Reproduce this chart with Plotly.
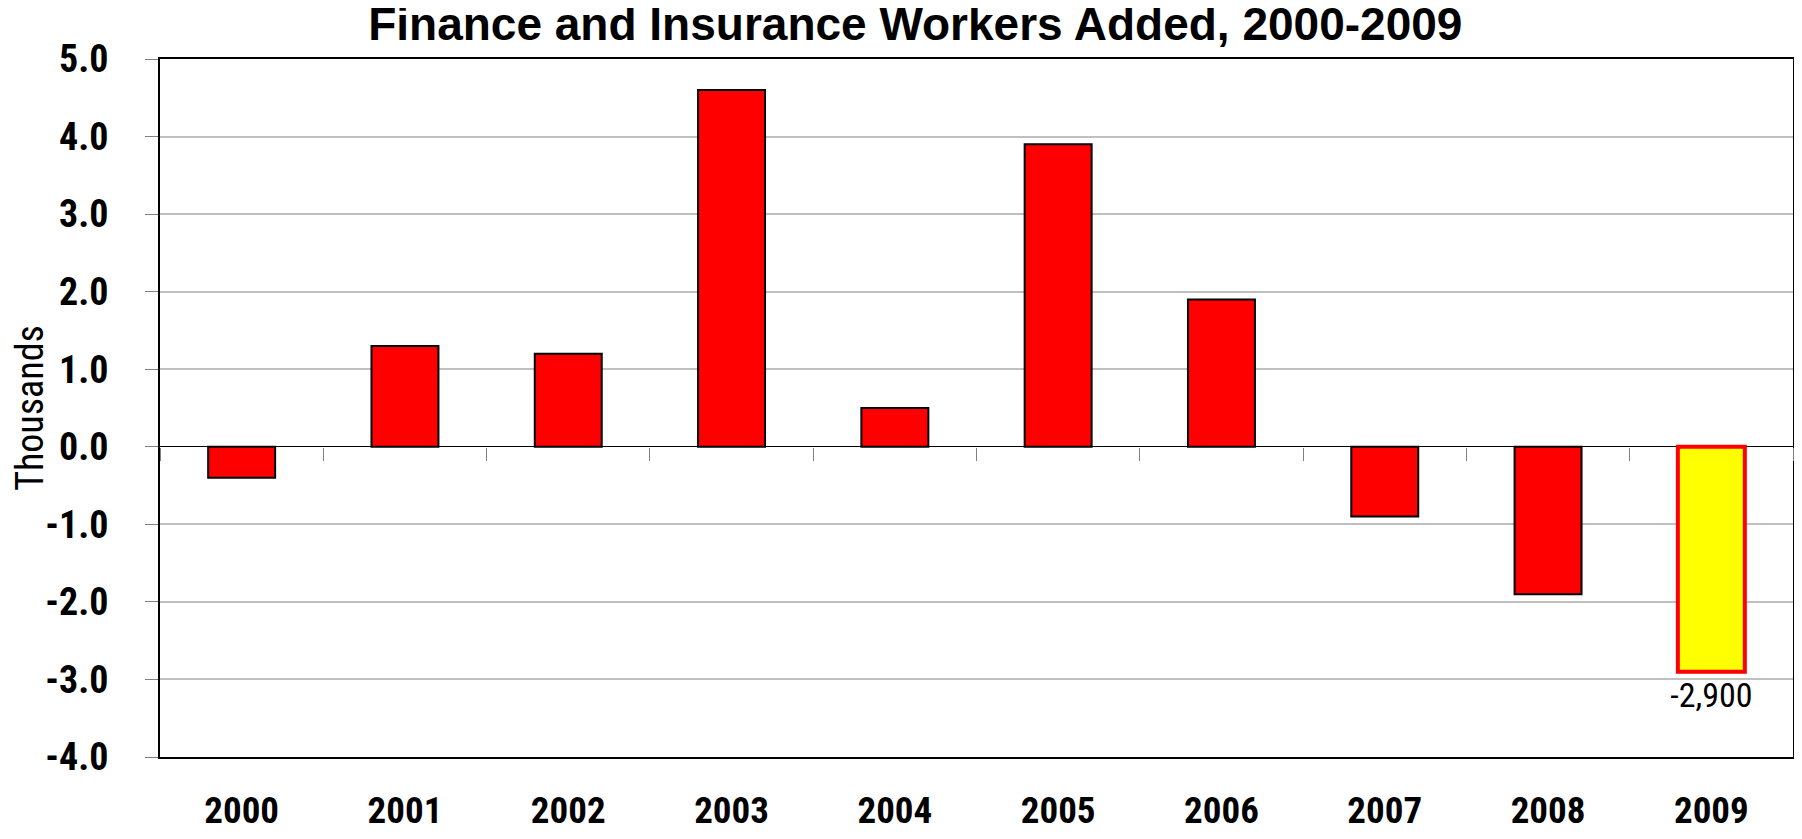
import plotly.graph_objects as go

# workers added per year, thousands
years = ["2000", "2001", "2002", "2003", "2004", "2005", "2006", "2007", "2008", "2009"]
added = [-0.4, 1.3, 1.2, 4.6, 0.5, 3.9, 1.9, -0.9, -1.9, -2.9]
y_ticks = [5.0, 4.0, 3.0, 2.0, 1.0, 0.0, -1.0, -2.0, -3.0, -4.0]

COND = "Roboto Condensed, Archivo Narrow, DejaVu Sans Condensed, Liberation Sans"

# last year highlighted in yellow with a red outline
fills = ["#ff0000"] * (len(years) - 1) + ["#ffff00"]
edges = ["#000000"] * (len(years) - 1) + ["#ff0000"]
edge_w = [2] * (len(years) - 1) + [4]
labels = [""] * (len(years) - 1) + [f"{added[-1] * 1000:,.0f}"]

fig = go.Figure()
fig.add_trace(go.Bar(
    x=years, y=added,
    marker=dict(color=fills, line=dict(color=edges, width=edge_w)),
    text=labels, textposition="outside", cliponaxis=False,
    constraintext="none",
    textfont=dict(family=COND, size=34, color="#000000"),
    hoverinfo="x+y", showlegend=False,
))
# invisible copy on a second x axis, so its ticks sit on the zero line
fig.add_trace(go.Scatter(
    x=years, y=added, xaxis="x2", mode="markers",
    marker=dict(opacity=0), hoverinfo="skip", showlegend=False,
))

y_lo, y_hi = -4.0, 5.0

# figure is 16px smaller than the window: the page body keeps its 8px margin
fig.update_layout(
    width=1786, height=823,
    paper_bgcolor="white", plot_bgcolor="white",
    margin=dict(l=152, r=1, t=51, b=74),
    bargap=0.59,
    title=dict(
        text="<b>Finance and Insurance Workers Added, 2000-2009</b>",
        font=dict(family="Liberation Sans, Arial", size=46, color="#000000"),
        x=0.508, xanchor="center", y=1.0, yanchor="top",
    ),
    xaxis=dict(
        type="category", range=[-0.5, len(years) - 0.5], automargin=False,
        showline=True, linecolor="#000000", linewidth=2, mirror=True,
        ticks="", showgrid=False,
        tickfont=dict(family=COND, size=37, color="#000000", weight="bold"),
        ticklabelstandoff=20,
    ),
    xaxis2=dict(
        type="category", overlaying="x", anchor="free", automargin=False,
        position=(0 - y_lo) / (y_hi - y_lo),
        range=[-0.5, len(years) - 0.5],
        tickson="boundaries", ticks="outside", ticklen=13,
        tickcolor="#808080", tickwidth=1,
        showticklabels=False, showline=False, showgrid=False,
    ),
    yaxis=dict(
        range=[y_lo, y_hi], tickvals=y_ticks, automargin=False,
        ticktext=[f"{v:.1f}" for v in y_ticks],
        showline=True, linecolor="#000000", linewidth=2, mirror=True,
        ticks="outside", ticklen=13, tickcolor="#808080", tickwidth=1,
        showgrid=True, gridcolor="#c0c0c0", gridwidth=1.5,
        zeroline=True, zerolinecolor="#000000", zerolinewidth=1,
        tickfont=dict(family=COND, size=38, color="#000000", weight="bold"),
        ticklabelstandoff=29,
        title=dict(text="Thousands", standoff=12,
                   font=dict(family=COND, size=38, color="#000000")),
    ),
)

fig.write_html("out.html")
